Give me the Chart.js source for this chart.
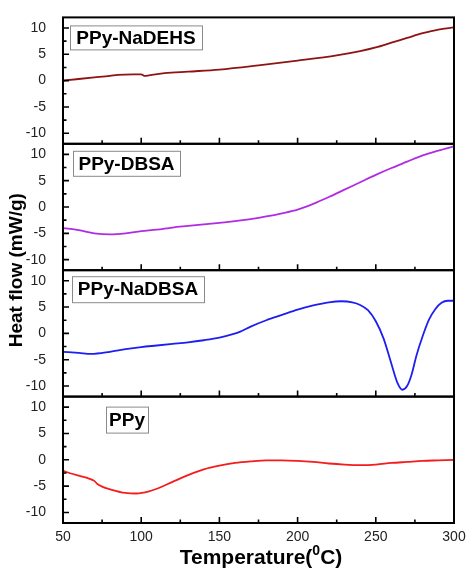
<!DOCTYPE html>
<html>
<head>
<meta charset="utf-8">
<script src="https://cdn.jsdelivr.net/npm/chart.js@4.4.1/dist/chart.umd.min.js"></script>
<style>
  html, body { margin: 0; padding: 0; background: #fff; }
</style>
</head>
<body>
<canvas id="dsc" width="466" height="569"></canvas>
<script>
// DSC curves: temperature (°C) and heat flow (mW/g), one pair of arrays per sample
const tempNaDEHS = [50, 60, 70, 80, 85, 95, 100, 102, 105, 115, 130, 150, 175, 200, 225, 240, 250, 260, 270, 280, 290, 300];
const heatNaDEHS = [0.0, 0.3, 0.6, 0.9, 1.1, 1.2, 1.2, 0.9, 1.0, 1.4, 1.7, 2.1, 2.9, 3.8, 4.8, 5.6, 6.3, 7.2, 8.1, 9.0, 9.7, 10.1];

const tempDBSA = [50, 60, 70, 80, 90, 100, 110, 120, 130, 140, 150, 160, 170, 180, 190, 200, 210, 220, 230, 240, 250, 260, 270, 280, 290, 300];
const heatDBSA = [-4.0, -4.4, -5.0, -5.2, -5.0, -4.6, -4.3, -3.9, -3.6, -3.3, -3.0, -2.7, -2.3, -1.8, -1.2, -0.5, 0.6, 1.9, 3.3, 4.7, 6.1, 7.4, 8.6, 9.8, 10.7, 11.5];

const tempNaDBSA = [50, 60, 68, 80, 90, 100, 110, 120, 130, 140, 150, 158, 163, 170, 180, 190, 200, 210, 220, 228, 235, 240, 245, 250, 255, 260, 264, 267, 270, 273, 276, 280, 284, 288, 292, 296, 300];
const heatNaDBSA = [-3.5, -3.7, -3.9, -3.5, -3.0, -2.6, -2.3, -2.0, -1.7, -1.3, -0.8, -0.2, 0.3, 1.3, 2.5, 3.5, 4.5, 5.3, 5.9, 6.1, 5.9, 5.4, 4.4, 2.3, -1.0, -5.8, -9.5, -10.7, -10.0, -7.7, -4.2, -0.5, 2.6, 4.6, 5.8, 6.2, 6.2];

const tempPPy = [50, 55, 60, 65, 70, 72, 75, 80, 90, 97, 105, 110, 120, 130, 140, 150, 160, 170, 180, 190, 200, 210, 220, 230, 240, 250, 260, 270, 280, 290, 300];
const heatPPy = [-2.1, -2.6, -3.0, -3.4, -4.0, -4.6, -5.1, -5.6, -6.3, -6.4, -6.0, -5.5, -4.2, -2.9, -1.8, -1.1, -0.6, -0.3, -0.1, -0.1, -0.2, -0.4, -0.7, -0.9, -1.0, -0.9, -0.6, -0.4, -0.2, -0.1, 0.0];

const panelLabels = ['PPy-NaDEHS', 'PPy-DBSA', 'PPy-NaDBSA', 'PPy'];
const xTicks = [50, 100, 150, 200, 250, 300];
const yTicks = [-10, -5, 0, 5, 10];
const yTitle = 'Heat flow (mW/g)';
const xTitle = ['Temperature(', '0', 'C)'];

const FONT = 'Arial, "Liberation Sans", sans-serif';
const points = (xs, ys) => xs.map((x, i) => ({ x: x, y: ys[i] }));

// top to bottom: axis ids, colours, label boxes (offset from plot left / panel top)
const panels = [
  { id: 'yNaDEHS', color: '#8e1414', box: { dx: 7, dy: 8, w: 132, h: 24 } },
  { id: 'yDBSA', color: '#b02ce4', box: { dx: 10, dy: 7, w: 107, h: 25 } },
  { id: 'yNaDBSA', color: '#1e1ef2', box: { dx: 9, dy: 6, w: 132, h: 26 } },
  { id: 'yPPy', color: '#f41c1c', box: { dx: 43, dy: 10, w: 42, h: 26 } }
];
const series = [points(tempNaDEHS, heatNaDEHS), points(tempDBSA, heatDBSA), points(tempNaDBSA, heatNaDBSA), points(tempPPy, heatPPy)];

function panelScale() {
  return {
    type: 'linear', position: 'left', stack: 'panels', stackWeight: 1,
    min: -12, max: 12,
    grid: { display: false }, border: { display: false },
    afterBuildTicks: s => { s.ticks = yTicks.map(v => ({ value: v })); },
    afterFit: s => { s.width = 63; },
    ticks: { autoSkip: false, padding: 9, color: '#222', font: { family: FONT, size: 14 } }
  };
}

// later axes in the stack sit higher, so add them bottom-up
const scales = {
  x: {
    type: 'linear', min: 50, max: 300,
    grid: { display: false }, border: { display: false },
    afterBuildTicks: s => { s.ticks = xTicks.map(v => ({ value: v })); },
    afterFit: s => { s.height = 46; },
    ticks: { autoSkip: false, maxRotation: 0, padding: -2, color: '#222', font: { family: FONT, size: 14 } }
  }
};
panels.slice().reverse().forEach(p => { scales[p.id] = panelScale(); });

const frames = {
  id: 'frames',
  afterDatasetsDraw(chart) {
    const ctx = chart.ctx;
    const xs = chart.scales.x;
    const left = chart.chartArea.left, right = chart.chartArea.right;
    ctx.save();
    panels.forEach((p, i) => {
      const ys = chart.scales[p.id];
      ctx.strokeStyle = '#000';
      ctx.lineWidth = 1.6;
      ctx.beginPath();
      for (let v = -10; v <= 10; v += 2.5) {
        const py = ys.getPixelForValue(v);
        const len = v % 5 === 0 ? 6 : 3.5;
        ctx.moveTo(left, py); ctx.lineTo(left + len, py);
      }
      for (let t = 50; t <= 300; t += 25) {
        const px = xs.getPixelForValue(t);
        const len = t % 50 === 0 ? 6 : 3.5;
        ctx.moveTo(px, ys.bottom); ctx.lineTo(px, ys.bottom - len);
      }
      ctx.stroke();
      ctx.lineWidth = 2;
      ctx.strokeRect(left, ys.top, right - left, ys.bottom - ys.top);

      const b = p.box;
      ctx.fillStyle = '#fff';
      ctx.fillRect(left + b.dx, ys.top + b.dy, b.w, b.h);
      ctx.strokeStyle = '#8a8a8a';
      ctx.lineWidth = 1;
      ctx.strokeRect(left + b.dx + 0.5, ys.top + b.dy + 0.5, b.w, b.h);
      ctx.fillStyle = '#000';
      ctx.font = 'bold 19px ' + FONT;
      ctx.textAlign = 'center';
      ctx.textBaseline = 'middle';
      ctx.fillText(panelLabels[i], left + b.dx + b.w / 2, ys.top + b.dy + b.h / 2 + 1);
    });

    // axis titles
    ctx.fillStyle = '#000';
    ctx.save();
    ctx.translate(17, (chart.chartArea.top + chart.chartArea.bottom) / 2);
    ctx.rotate(-Math.PI / 2);
    ctx.font = 'bold 19px ' + FONT;
    ctx.textAlign = 'center';
    ctx.textBaseline = 'middle';
    ctx.fillText(yTitle, 0, 0);
    ctx.restore();

    const big = 'bold 21px ' + FONT, small = 'bold 14px ' + FONT;
    ctx.font = big; const w0 = ctx.measureText(xTitle[0]).width, w2 = ctx.measureText(xTitle[2]).width;
    ctx.font = small; const w1 = ctx.measureText(xTitle[1]).width;
    let tx = 261 - (w0 + w1 + w2) / 2;
    const ty = 558;
    ctx.textAlign = 'left';
    ctx.textBaseline = 'middle';
    ctx.font = big; ctx.fillText(xTitle[0], tx, ty); tx += w0;
    ctx.font = small; ctx.fillText(xTitle[1], tx, ty - 7); tx += w1;
    ctx.font = big; ctx.fillText(xTitle[2], tx, ty);
    ctx.restore();
  }
};

new Chart(document.getElementById('dsc'), {
  type: 'line',
  data: {
    datasets: panels.map((p, i) => ({
      label: panelLabels[i],
      data: series[i],
      yAxisID: p.id,
      borderColor: p.color,
      borderWidth: 1.8,
      pointRadius: 0,
      fill: false,
      cubicInterpolationMode: 'monotone'
    }))
  },
  options: {
    responsive: false,
    animation: false,
    devicePixelRatio: 1,
    layout: { padding: { top: 14, right: 12, left: 0, bottom: 0 } },
    plugins: { legend: { display: false }, tooltip: { enabled: false } },
    scales: scales
  },
  plugins: [frames]
});
</script>
</body>
</html>
